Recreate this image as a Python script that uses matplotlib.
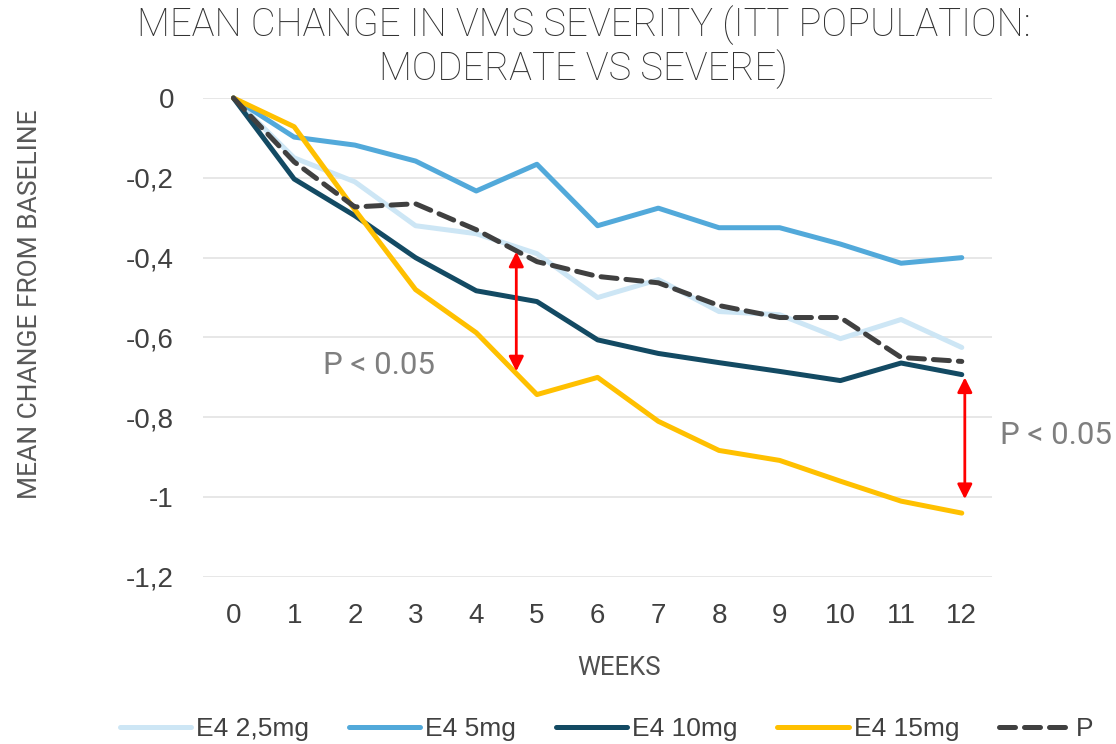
import matplotlib.pyplot as plt

weeks = list(range(13))
e4_2_5mg = [0, -0.15, -0.21, -0.32, -0.34, -0.39, -0.50, -0.455, -0.535, -0.543, -0.603, -0.555, -0.625]
e4_5mg = [0, -0.098, -0.118, -0.158, -0.233, -0.166, -0.32, -0.276, -0.325, -0.325, -0.366, -0.414, -0.40]
e4_10mg = [0, -0.203, -0.295, -0.40, -0.483, -0.51, -0.606, -0.64, -0.663, -0.685, -0.708, -0.664, -0.693]
e4_15mg = [0, -0.072, -0.28, -0.48, -0.588, -0.743, -0.70, -0.81, -0.883, -0.908, -0.96, -1.01, -1.04]
placebo = [0, -0.16, -0.273, -0.265, -0.33, -0.41, -0.447, -0.463, -0.52, -0.55, -0.55, -0.65, -0.66]

labels = ['E4 2,5mg', 'E4 5mg', 'E4 10mg', 'E4 15mg', 'P']
colors = ['#cde6f5', '#52a9da', '#134a63', '#ffc000', '#404040']
yticks = [0, -0.2, -0.4, -0.6, -0.8, -1.0, -1.2]
ytick_labels = ['0', '-0,2', '-0,4', '-0,6', '-0,8', '-1', '-1,2']

plt.rcParams['font.family'] = ['Roboto', 'DejaVu Sans']
arial = ['Liberation Sans', 'DejaVu Sans']

fig = plt.figure(figsize=(11.16, 7.44), dpi=100)
ax = fig.add_axes([0.182, 0.2245, 0.707, 0.6438])

series = [e4_2_5mg, e4_5mg, e4_10mg, e4_15mg]
for vals, lab, col in zip(series, labels[:4], colors[:4]):
    ax.plot(weeks, vals, color=col, lw=3.6, label=lab, solid_capstyle='round',
            solid_joinstyle='round', clip_on=False)
ax.plot(weeks, placebo, color=colors[4], lw=3.6, label=labels[4], dashes=(3.2, 1.8),
        dash_capstyle='round', solid_joinstyle='round', clip_on=False)

ax.set_xlim(-0.5, 12.5)
ax.set_ylim(-1.2, 0)
ax.set_xticks(weeks)
ax.set_yticks(yticks)
ax.set_yticklabels(ytick_labels)
ax.tick_params(axis='both', length=0, labelsize=20, labelcolor='#404040')
ax.tick_params(axis='x', pad=19)
ax.tick_params(axis='y', pad=21)
for t in ax.get_xticklabels() + ax.get_yticklabels():
    t.set_family(arial)
ax.grid(axis='y', color='#e3e3e3', lw=1.2)
ax.set_axisbelow(True)
for s in ax.spines.values():
    s.set_visible(False)

ax.set_xlabel('WEEKS', fontsize=18.5, color='#505050')
ax.xaxis.set_label_coords(0.527, -0.165)
ax.set_ylabel('MEAN CHANGE FROM BASELINE', fontsize=19, color='#595959')
ax.yaxis.set_label_coords(-0.204, 0.57)

# significance arrows
arrow = dict(arrowstyle='<|-|>', color='red', lw=2, mutation_scale=22,
             shrinkA=0, shrinkB=0)
ax.annotate('', xy=(4.66, -0.385), xytext=(4.66, -0.685), arrowprops=arrow)
ax.annotate('', xy=(12.05, -0.70), xytext=(12.05, -1.005), arrowprops=arrow)
ax.text(2.39, -0.669, 'P < 0.05', fontsize=22.5, color='#7f7f7f', ha='center', va='center')
fig.text(1000 / 1116, 1 - 435 / 744, 'P < 0.05', fontsize=22.5, color='#7f7f7f', ha='left',
         va='center')

fig.suptitle('MEAN CHANGE IN VMS SEVERITY (ITT POPULATION:\nMODERATE VS SEVERE)',
             x=0.523, y=0.993, fontsize=27.5, color='#333333', fontweight='light',
             linespacing=1.12)

fig.legend(loc='center left', bbox_to_anchor=(96 / 1116, 1 - 729 / 744), ncol=5,
           frameon=False, prop={'family': arial, 'size': 19}, handlelength=2.7,
           handletextpad=0.2, columnspacing=1.5, labelcolor='#404040')

fig.savefig('out.png', dpi=100)
